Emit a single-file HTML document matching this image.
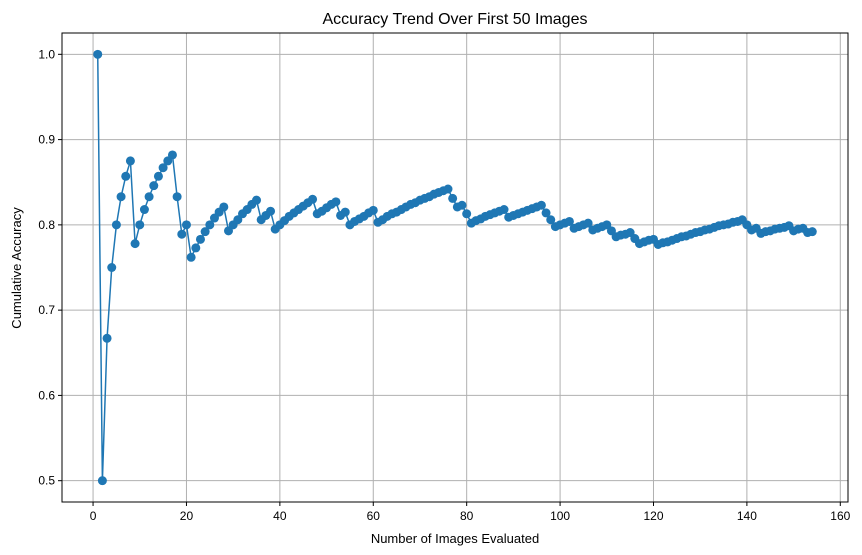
<!DOCTYPE html>
<html><head><meta charset="utf-8">
<style>
html,body{margin:0;padding:0;background:#fff;}
svg{display:block;font-family:"Liberation Sans","DejaVu Sans",sans-serif;}
</style></head>
<body>
<svg id="chart" width="862" height="555" viewBox="0 0 862 555">
<text x="455" y="24" text-anchor="middle" font-size="16" fill="#000">Accuracy Trend Over First 50 Images</text>
<text x="455" y="543" text-anchor="middle" font-size="13" fill="#000">Number of Images Evaluated</text>
<text x="0" y="0" transform="translate(21,268) rotate(-90)" text-anchor="middle" font-size="13" fill="#000">Cumulative Accuracy</text>
<g id="grid"></g>
<g id="ticks"></g>
<g id="series"></g>
<rect x="62" y="33" width="786" height="469" fill="none" stroke="#000" stroke-width="1"/>
</svg>
<script>
const xTicks = [0,20,40,60,80,100,120,140,160];
const yTicks = [0.5,0.6,0.7,0.8,0.9,1.0];
const yTickLabels = ["0.5","0.6","0.7","0.8","0.9","1.0"];
const accuracy = [1.000,0.500,0.667,0.750,0.800,0.833,0.857,0.875,0.778,0.800,
0.818,0.833,0.846,0.857,0.867,0.875,0.882,0.833,0.789,0.800,
0.762,0.773,0.783,0.792,0.800,0.808,0.815,0.821,0.793,0.800,
0.806,0.813,0.818,0.824,0.829,0.806,0.811,0.816,0.795,0.800,
0.805,0.810,0.814,0.818,0.822,0.826,0.830,0.813,0.816,0.820,
0.824,0.827,0.811,0.815,0.800,0.804,0.807,0.810,0.814,0.817,
0.803,0.806,0.810,0.813,0.815,0.818,0.821,0.824,0.826,0.829,
0.831,0.833,0.836,0.838,0.840,0.842,0.831,0.821,0.823,0.813,
0.802,0.805,0.807,0.810,0.812,0.814,0.816,0.818,0.809,0.811,
0.813,0.815,0.817,0.819,0.821,0.823,0.814,0.806,0.798,0.800,
0.802,0.804,0.796,0.798,0.800,0.802,0.794,0.796,0.798,0.800,
0.793,0.786,0.788,0.789,0.791,0.784,0.778,0.780,0.782,0.783,
0.777,0.779,0.780,0.782,0.784,0.786,0.787,0.789,0.791,0.792,
0.794,0.795,0.797,0.799,0.800,0.801,0.803,0.804,0.806,0.800,
0.794,0.796,0.790,0.792,0.793,0.795,0.796,0.797,0.799,0.793,
0.795,0.796,0.791,0.792];

const NS="http://www.w3.org/2000/svg";
const L=62,R=848,T=33,B=502;
const xMin=-6.65,xMax=161.65,yMin=0.475,yMax=1.025;
function xs(v){return L+(v-xMin)/(xMax-xMin)*(R-L);}
function ys(v){return B-(v-yMin)/(yMax-yMin)*(B-T);}
function mk(tag,attrs,parent){const e=document.createElementNS(NS,tag);for(const k in attrs)e.setAttribute(k,attrs[k]);parent.appendChild(e);return e;}
const grid=document.getElementById('grid'),ticks=document.getElementById('ticks'),ser=document.getElementById('series');
xTicks.forEach(t=>{
  const x=xs(t);
  const g=mk('line',{x1:x,x2:x,y1:T,y2:B,stroke:'#b0b0b0','stroke-width':1},grid);
  
  
  mk('line',{x1:x,x2:x,y1:B,y2:B+4,stroke:'#000'},ticks);
  const tx=mk('text',{x:x,y:B+18,'text-anchor':'middle','font-size':12},ticks);
  tx.textContent=String(t);
  
  
});
yTicks.forEach((t,i)=>{
  const y=ys(t);
  const g=mk('line',{x1:L,x2:R,y1:y,y2:y,stroke:'#b0b0b0','stroke-width':1},grid);
  
  
  mk('line',{x1:L-4,x2:L,y1:y,y2:y,stroke:'#000'},ticks);
  const tx=mk('text',{x:L-7,y:y+4,'text-anchor':'end','font-size':12},ticks);
  tx.textContent=yTickLabels[i];
  
  
});
const pts=accuracy.map((v,i)=>xs(i+1).toFixed(2)+','+ys(v).toFixed(2)).join(' ');
const line=mk('polyline',{points:pts,fill:'none',stroke:'#1f77b4','stroke-width':1.5},ser);


accuracy.forEach((v,i)=>{
  const c=mk('circle',{cx:xs(i+1),cy:ys(v),r:4.5,fill:'#1f77b4'},ser);
  
  
});
</script>
</body></html>
